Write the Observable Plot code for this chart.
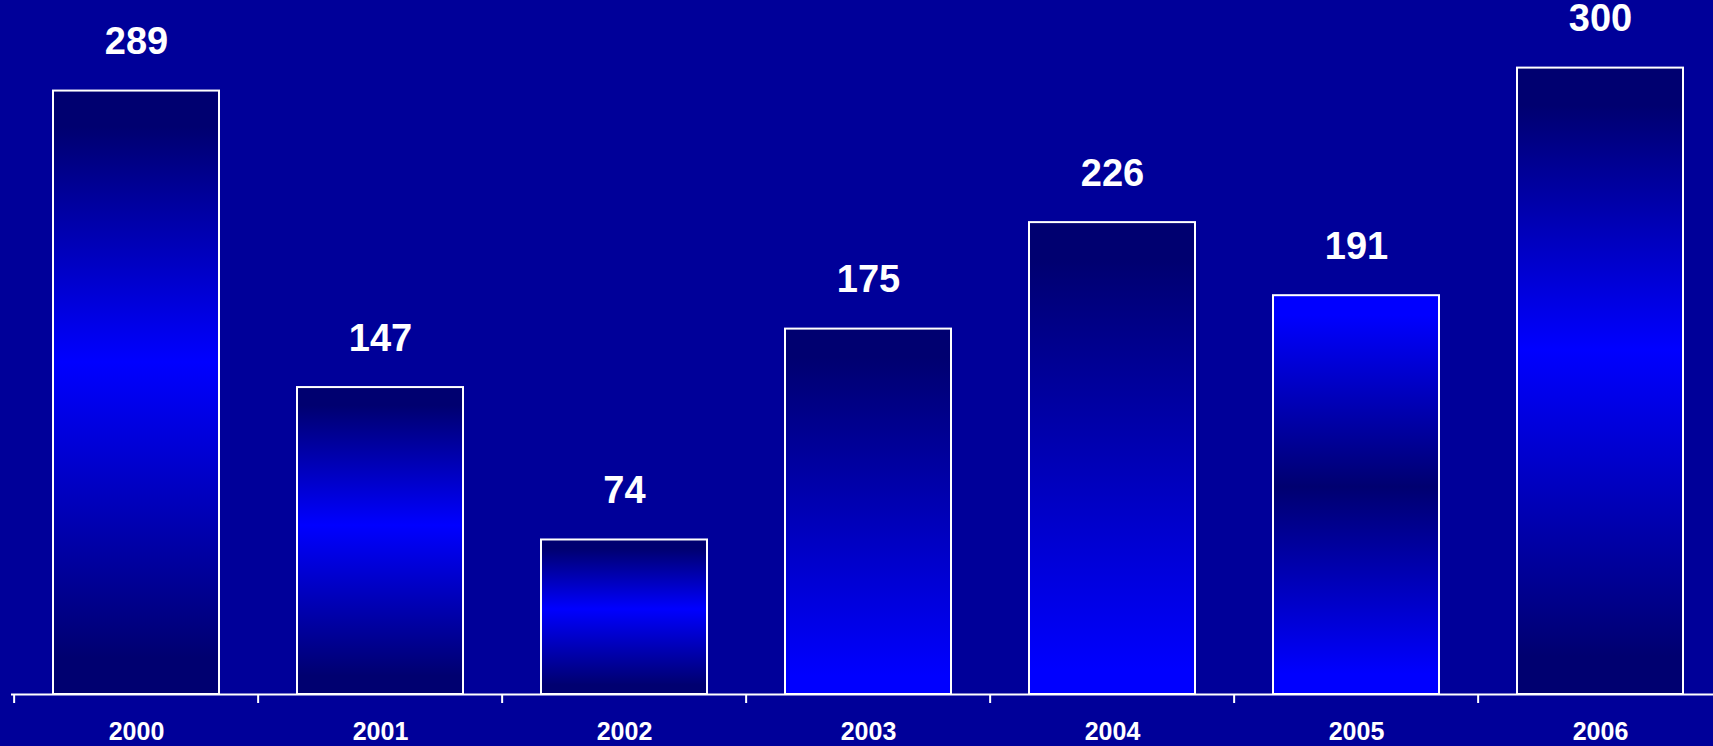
<!DOCTYPE html>
<html>
<head>
<meta charset="utf-8">
<script src="https://cdn.jsdelivr.net/npm/d3@7"></script>
<script src="https://cdn.jsdelivr.net/npm/@observablehq/plot@0.6"></script>
<style>
  html, body { margin: 0; padding: 0; background: #000099; overflow: hidden; }
  #chart svg { display: block; }
</style>
</head>
<body>
<div id="chart"></div>
<script>
// ---- data ----
const years = ["2000", "2001", "2002", "2003", "2004", "2005", "2006"];
const values = [289, 147, 74, 175, 226, 191, 300];
const yDomain = [0, 300];

// ---- style: gradient look of each bar ----
const gradientOf = {
  "2000": "mid", "2001": "mid", "2002": "mid", "2006": "mid",
  "2003": "up", "2004": "up",
  "2005": "inv"
};

const table = years.map((year, i) => ({year, value: values[i]}));

const W = 1713, H = 746;
const xRange = [11, 1724];
const step = (xRange[1] - xRange[0]) / years.length;
const font = "'Liberation Sans', Arial, Helvetica, sans-serif";

const barOpts = (kind) => Plot.barY(
  table.filter(d => gradientOf[d.year] === kind),
  {x: "year", y: "value", fill: `url(#g-${kind})`, stroke: "white", strokeWidth: 2}
);

const chart = Plot.plot({
  width: W,
  height: H,
  marginLeft: 11,
  marginRight: 0,
  marginTop: 0,
  marginBottom: 52,
  style: {background: "#000099", color: "white", fontFamily: font, overflow: "visible"},
  x: {type: "band", domain: years, range: xRange, paddingInner: 0.32, paddingOuter: 0.16, axis: null, label: null},
  y: {domain: yDomain, range: [694, 67.6], axis: null, label: null},
  marks: [
    barOpts("mid"),
    barOpts("up"),
    barOpts("inv"),
    Plot.ruleY([0], {stroke: "white", strokeWidth: 2}),
    Plot.ruleX(years, {x: d => d, y1: 0, y2: 0, dx: -step / 2, insetBottom: -9, stroke: "white", strokeWidth: 2}),
    Plot.axisX({tickSize: 0, tickPadding: 28, fontSize: 25, fontWeight: "bold", fill: "white", fontFamily: font, label: null}),
    Plot.text(table, {x: "year", y: "value", text: d => String(d.value), dy: -49,
      fontSize: 38, fontWeight: "bold", fill: "white", fontFamily: font})
  ]
});

// gradient definitions
const svg = d3.select(chart.tagName === "svg" ? chart : chart.querySelector("svg"));
const defs = svg.insert("defs", ":first-child");
const dark = "#000070", bright = "#0000FF";
const gradDefs = {
  mid: [[0, dark], [0.06, dark], [0.45, bright], [0.94, dark], [1, dark]],
  up:  [[0, dark], [0.08, dark], [0.95, bright], [1, bright]],
  inv: [[0, bright], [0.05, bright], [0.48, dark], [0.95, bright], [1, bright]]
};
for (const [kind, stops] of Object.entries(gradDefs)) {
  const g = defs.append("linearGradient").attr("id", `g-${kind}`)
    .attr("x1", 0).attr("y1", 0).attr("x2", 0).attr("y2", 1);
  for (const [o, c] of stops) g.append("stop").attr("offset", o).attr("stop-color", c);
}

document.getElementById("chart").append(chart);
</script>
</body>
</html>
